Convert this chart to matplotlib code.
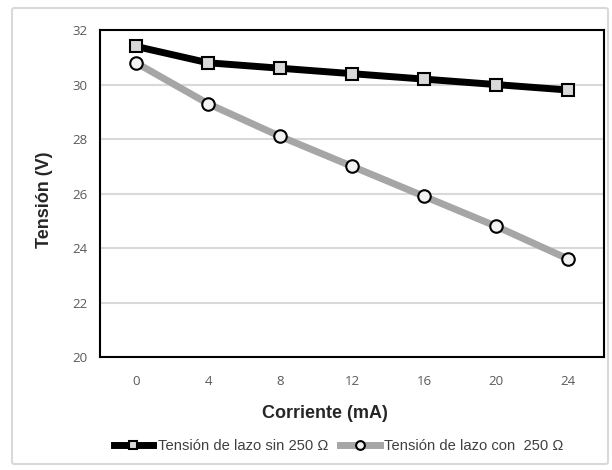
import numpy as np
import matplotlib.pyplot as plt
from matplotlib.patches import FancyBboxPatch

# data
corriente = [0, 4, 8, 12, 16, 20, 24]
sin_250 = [31.4, 30.8, 30.6, 30.4, 30.2, 30.0, 29.8]
con_250 = [30.8, 29.3, 28.1, 27.0, 25.9, 24.8, 23.6]
y_ticks = [20, 22, 24, 26, 28, 30, 32]

fig = plt.figure(figsize=(6.12, 4.7), dpi=100)
ax = fig.add_axes([0.1634, 0.2404, 0.8236, 0.6956])

# outer light-gray frame like the Excel chart area
frame = FancyBboxPatch((12 / 612, 6 / 470), 596 / 612, 456 / 470,
                       boxstyle="round,pad=0,rounding_size=0.004",
                       transform=fig.transFigure, fill=False,
                       edgecolor='#d9d9d9', linewidth=1.5)
fig.patches.append(frame)

x = np.arange(len(corriente))
ax.plot(x, sin_250, color='black', linewidth=5, marker='s', markersize=9,
        markerfacecolor='#d9d9d9', markeredgecolor='black', markeredgewidth=1.5,
        label='Tensión de lazo sin 250 Ω', zorder=4)
ax.plot(x, con_250, color='#a6a6a6', linewidth=5, marker='o', markersize=9,
        markerfacecolor='#f2f2f2', markeredgecolor='black', markeredgewidth=1.5,
        label='Tensión de lazo con  250 Ω', zorder=3)

ax.set_xlim(-0.5, len(corriente) - 0.5)
ax.set_ylim(20, 32)
ax.set_xticks(x)
ax.set_xticklabels([str(c) for c in corriente])
ax.set_yticks(y_ticks)
ax.tick_params(length=0, labelsize=9.5, labelcolor='#595959')
ax.tick_params(axis='x', pad=13)
ax.tick_params(axis='y', pad=9)
for lab in ax.get_xticklabels() + ax.get_yticklabels():
    lab.set_family('Open Sans')
ax.yaxis.grid(True, color='#d9d9d9', linewidth=1.5)
ax.set_axisbelow(True)
for sp in ax.spines.values():
    sp.set_color('black')
    sp.set_linewidth(1.5)

ax.set_xlabel('Corriente (mA)', fontsize=13, fontweight='bold', family='Liberation Sans',
              color='#262626')
ax.xaxis.set_label_coords(0.446, -0.147)
ax.set_ylabel('Tensión (V)', fontsize=13, fontweight='bold', family='Liberation Sans',
              color='#262626')
ax.yaxis.set_label_coords(-0.094, 0.48)

leg = fig.legend(loc='center', bbox_to_anchor=(0.553, 0.051), ncol=2, frameon=False,
                 prop={'family': 'Liberation Sans', 'size': 10.6}, handlelength=2.7,
                 handletextpad=0.3, columnspacing=0.8, markerscale=0.7)
for t in leg.get_texts():
    t.set_color('#404040')

fig.savefig('out.png', dpi=100)
